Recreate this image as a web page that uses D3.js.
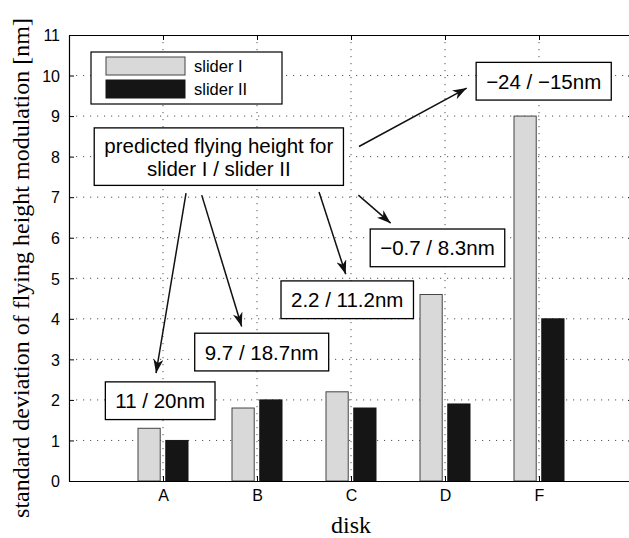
<!DOCTYPE html>
<html>
<head>
<meta charset="utf-8">
<script src="https://d3js.org/d3.v7.min.js"></script>
<style>
body { margin: 0; background: #fff; }
.grid line { stroke: #555; stroke-width: 1; stroke-dasharray: 1.2,5.8; }
.note text { font-family: "Liberation Sans", Arial, sans-serif; font-size: 20.5px; fill: #000; }
.lbl { font-family: "Liberation Serif", "Times New Roman", serif; font-size: 24px; fill: #000; }
</style>
</head>
<body>
<script>

// values
var disks = ["A", "B", "C", "D", "F"];
var series = ["slider I", "slider II"];
var slider1 = [1.3, 1.8, 2.2, 4.6, 9.0];
var slider2 = [1.0, 2.0, 1.8, 1.9, 4.0];
var yTicks = [0, 1, 2, 3, 4, 5, 6, 7, 8, 9, 10, 11];
var colors = ["#d9d9d9", "#151515"];

// annotation boxes: centre in (disk position, nm)
var boxes = [
  {x: 0.97, y: 1.98, lines: ["11 / 20nm"]},
  {x: 2.05, y: 3.18, lines: ["9.7 / 18.7nm"]},
  {x: 2.96, y: 4.47, lines: ["2.2 / 11.2nm"]},
  {x: 3.92, y: 5.75, lines: ["\u22120.7 / 8.3nm"]},
  {x: 5.05, y: 9.86, lines: ["\u221224 / \u221215nm"]},
  {x: 1.594, y: 8.0, lines: ["predicted flying height for", "slider I / slider II"]}
];
// arrows: from -> to in (disk position, nm)
var arrows = [
  {x1: 1.245, y1: 7.10, x2: 0.926, y2: 2.66},
  {x1: 1.412, y1: 7.05, x2: 1.837, y2: 3.81},
  {x1: 2.660, y1: 7.13, x2: 2.944, y2: 5.10},
  {x1: 3.078, y1: 7.05, x2: 3.422, y2: 6.36},
  {x1: 3.085, y1: 8.25, x2: 4.231, y2: 9.69}
];

var width = 629, height = 538;
var mLeft = 69, mRight = 633, mTop = 35, mBottom = 481;

var svg = d3.select("body").append("svg")
  .attr("width", width)
  .attr("height", height);

var xPos = d3.scaleLinear().domain([0, 6]).range([mLeft, mRight]);
var x = d3.scalePoint().domain(disks).range([mLeft, mRight]).padding(1);
var inner = d3.scaleBand().domain(series).range([-25, 25]).paddingInner(0.2);
var y = d3.scaleLinear().domain([0, 11]).range([mBottom, mTop]);

// grid
var grid = svg.append("g").attr("class", "grid");
grid.selectAll(".gy").data(yTicks.slice(1, -1)).enter().append("line")
  .attr("x1", mLeft).attr("x2", mRight)
  .attr("y1", function(d) { return y(d); }).attr("y2", function(d) { return y(d); });
grid.selectAll(".gx").data(disks).enter().append("line")
  .attr("x1", function(d) { return x(d); }).attr("x2", function(d) { return x(d); })
  .attr("y1", mTop).attr("y2", mBottom);

// bars
var groups = svg.append("g").selectAll("g").data(disks).enter().append("g")
  .attr("transform", function(d) { return "translate(" + x(d) + ",0)"; });
groups.selectAll("rect")
  .data(function(d, i) { return [slider1[i], slider2[i]].map(function(v, j) { return {s: series[j], v: v, j: j}; }); })
  .enter().append("rect")
  .attr("x", function(d) { return inner(d.s); })
  .attr("width", inner.bandwidth())
  .attr("y", function(d) { return y(d.v); })
  .attr("height", function(d) { return y(0) - y(d.v); })
  .attr("fill", function(d) { return colors[d.j]; })
  .attr("stroke", function(d) { return d.j ? "#151515" : "#444"; })
  .attr("stroke-width", 1);

// axes box with inward ticks
var axL = svg.append("g").attr("transform", "translate(" + mLeft + ",0)")
  .call(d3.axisLeft(y).tickValues(yTicks).tickSize(-5).tickSizeOuter(0).tickPadding(9));
var axR = svg.append("g").attr("transform", "translate(" + mRight + ",0)")
  .call(d3.axisRight(y).tickValues(yTicks).tickSize(-5).tickSizeOuter(0).tickFormat(""));
var axB = svg.append("g").attr("transform", "translate(0," + mBottom + ")")
  .call(d3.axisBottom(x).tickSize(-5).tickSizeOuter(0).tickPadding(9));
var axT = svg.append("g").attr("transform", "translate(0," + mTop + ")")
  .call(d3.axisTop(x).tickSize(-5).tickSizeOuter(0).tickFormat(""));
[axL, axR, axB, axT].forEach(function(a) {
  a.select(".domain").attr("stroke", "#000").attr("stroke-width", 1.2);
  a.selectAll(".tick line").attr("stroke", "#000");
  a.selectAll(".tick text").attr("fill", "#000")
    .style("font-family", "'Liberation Sans', Arial, sans-serif")
    .style("font-size", "16px");
});
axL.selectAll(".tick text").attr("dy", "0.36em");

// legend
var leg = svg.append("g");
leg.append("rect").attr("x", 91).attr("y", 52).attr("width", 191).attr("height", 52)
  .attr("fill", "#fff").attr("stroke", "#000").attr("stroke-width", 1.2);
series.forEach(function(s, i) {
  leg.append("rect").attr("x", 106).attr("y", 57 + i * 23).attr("width", 79).attr("height", 18)
    .attr("fill", colors[i]).attr("stroke", i ? "#151515" : "#444");
  leg.append("text").attr("x", 194).attr("y", 72 + i * 23)
    .style("font-family", "'Liberation Sans', Arial, sans-serif").style("font-size", "16.5px")
    .text(s);
});

// arrow head
svg.append("defs").append("marker")
  .attr("id", "head").attr("viewBox", "0 0 14 10")
  .attr("refX", 14).attr("refY", 5)
  .attr("markerWidth", 14).attr("markerHeight", 10)
  .attr("markerUnits", "userSpaceOnUse")
  .attr("orient", "auto")
  .append("path").attr("d", "M0,0 L14,5 L0,10 L4,5 Z").attr("fill", "#111");

var notes = svg.append("g").attr("class", "note");
notes.selectAll("line").data(arrows).enter().append("line")
  .attr("x1", function(d) { return xPos(d.x1); })
  .attr("y1", function(d) { return y(d.y1); })
  .attr("x2", function(d) { return xPos(d.x2); })
  .attr("y2", function(d) { return y(d.y2); })
  .attr("stroke", "#111").attr("stroke-width", 1.5)
  .attr("marker-end", "url(#head)");

boxes.forEach(function(b) {
  var g = notes.append("g");
  var cx = xPos(b.x), cy = y(b.y);
  var lh = 23;
  var rect = g.append("rect");
  var t = g.append("text").attr("text-anchor", "middle");
  b.lines.forEach(function(l, i) {
    t.append("tspan").attr("x", cx)
      .attr("y", cy + (i - (b.lines.length - 1) / 2) * lh + 7.5)
      .text(l);
  });
  var bb = t.node().getBBox();
  var w = bb.width + 20, h = b.lines.length > 1 ? 57.5 : 37.7;
  rect.attr("x", cx - w / 2).attr("y", cy - h / 2).attr("width", w).attr("height", h)
    .attr("fill", "#fff").attr("stroke", "#000").attr("stroke-width", 1.3);
});

// axis labels
svg.append("text").attr("class", "lbl").attr("text-anchor", "middle")
  .attr("x", x("C")).attr("y", 533).text("disk");
svg.append("text").attr("class", "lbl").attr("text-anchor", "middle")
  .attr("transform", "translate(29,268) rotate(-90)")
  .text("standard deviation of flying height modulation [nm]");

</script>
</body>
</html>
